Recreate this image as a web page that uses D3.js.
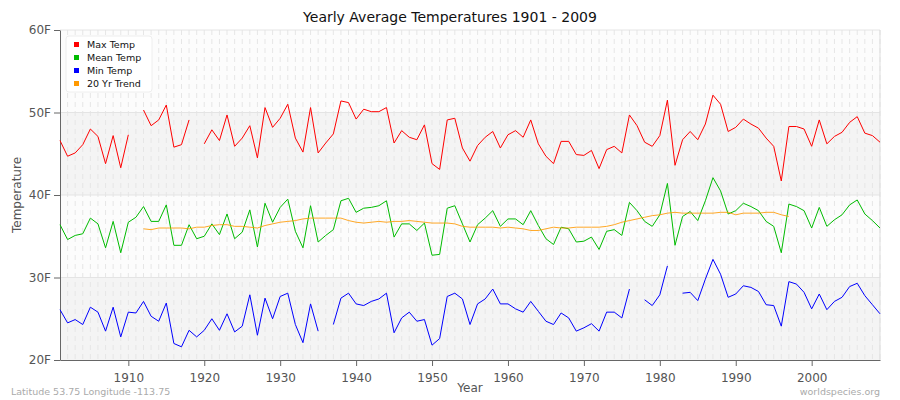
<!DOCTYPE html>
<html>
<head>
<meta charset="utf-8">
<script src="https://cdn.jsdelivr.net/npm/d3@7"></script>
<style>
  body { margin: 0; background: #fff; }
  text { font-family: "DejaVu Sans", Verdana, sans-serif; }
</style>
</head>
<body>
<div id="wrapper"></div>
<script>
// Data
const startYear = 1901;
const maxTemp = [46.6,44.7,45.1,46.1,48.0,47.1,43.8,47.2,43.3,47.3,null,50.3,48.4,49.1,50.9,45.8,46.1,49.1,null,
  46.2,47.9,46.6,49.7,45.9,46.9,48.4,44.5,50.6,48.2,49.3,51.0,46.9,45.2,50.6,45.1,46.3,47.4,51.4,51.2,
  49.2,50.4,50.1,50.1,50.6,46.3,47.8,47.0,46.7,48.5,43.8,43.1,49.1,49.3,45.7,44.1,46.0,47.0,47.7,45.7,
  47.3,47.8,47.0,49.1,46.2,44.7,43.8,46.5,46.5,44.9,44.8,45.4,43.2,45.5,45.9,45.1,49.7,48.4,46.4,45.9,
  47.2,51.5,43.6,46.7,47.7,46.7,48.6,52.1,51.0,47.7,48.2,49.2,48.6,48.1,46.9,45.9,41.7,48.3,48.3,48.0,
  45.9,49.1,46.2,47.1,47.6,48.8,49.5,47.5,47.2,46.4];
const meanTemp = [36.4,34.6,35.1,35.3,37.2,36.5,33.6,36.8,33.0,36.7,37.3,38.6,36.8,36.8,38.8,33.9,33.9,36.4,34.7,
  35.0,36.5,35.2,37.7,34.7,35.5,38.2,33.7,39.0,36.7,38.5,39.5,35.6,33.6,38.7,34.3,35.1,35.8,39.3,39.6,
  37.9,38.4,38.5,38.7,39.3,34.9,36.5,36.5,35.7,36.6,32.7,32.8,38.4,38.7,36.5,34.3,36.4,37.2,38.1,36.2,
  37.1,37.1,36.4,38.1,36.3,34.7,34.0,36.1,35.9,34.3,34.4,34.9,33.4,35.6,35.8,35.1,39.1,38.1,36.8,36.2,
  37.6,41.4,33.9,37.4,38.0,36.9,39.3,42.1,40.5,37.7,38.1,39.0,38.6,38.1,36.8,36.2,33.0,38.9,38.6,38.1,
  36.0,38.5,36.2,37.0,37.6,38.8,39.4,37.7,36.9,36.0];
const minTemp = [26.1,24.5,24.9,24.3,26.4,25.8,23.5,26.4,22.8,25.8,25.7,27.1,25.3,24.7,26.9,22.0,21.6,23.6,22.8,
  23.6,25.0,23.6,25.6,23.4,24.1,27.9,23.0,27.5,25.0,27.7,28.1,24.3,22.1,26.8,23.5,null,24.3,27.5,28.1,
  26.8,26.6,27.1,27.4,28.1,23.3,25.1,25.8,24.7,24.9,21.8,22.6,27.7,28.1,27.4,24.3,26.8,27.4,28.6,26.8,
  26.8,26.2,25.8,27.1,25.9,24.7,24.3,25.7,25.1,23.5,23.9,24.4,23.5,25.8,25.8,25.1,28.6,null,27.3,26.6,
  27.9,31.4,null,28.1,28.2,27.2,29.8,32.2,30.4,27.6,28.0,29.0,28.8,28.3,26.7,26.6,24.1,29.5,29.2,28.2,
  26.2,28.0,26.1,27.1,27.6,28.9,29.3,27.8,26.7,25.6];
// 20 year trend, 1912 - 1999
const trendStart = 1912;
const trendTemp = [35.9,35.8,36.0,36.0,36.0,36.0,35.9,36.1,36.1,36.3,36.4,36.4,36.2,36.2,36.1,36.0,36.3,
  36.5,36.7,36.8,36.9,37.1,37.2,37.2,37.2,37.2,37.2,36.9,36.7,36.6,36.7,36.8,36.7,36.8,36.8,36.9,36.8,
  36.7,36.6,36.6,36.6,36.5,36.2,36.1,36.1,36.1,36.1,36.0,36.1,36.0,35.9,35.7,35.7,35.9,36.1,36.0,36.0,
  36.1,36.1,36.1,36.1,36.2,36.4,36.7,36.9,37.1,37.3,37.5,37.6,37.8,37.9,37.8,37.8,37.8,37.8,37.8,37.9,
  37.9,37.6,37.8,37.8,37.8,37.9,37.9,37.6,37.4];
const yTicks = [20, 30, 40, 50, 60];
const xTicks = [1910, 1920, 1930, 1940, 1950, 1960, 1970, 1980, 1990, 2000];
const seriesNames = ["Max Temp", "Mean Temp", "Min Temp", "20 Yr Trend"];
const seriesColors = ["#ff0000", "#00bb00", "#0000ff", "#ff9900"];

const width = 900, height = 400;
const margin = { top: 30, right: 20, bottom: 40, left: 60 };

const svg = d3.select("#wrapper").append("svg")
  .attr("width", width).attr("height", height);

const x = d3.scaleLinear().domain([1901, 2009]).range([margin.left, width - margin.right]);
const y = d3.scaleLinear().domain([20, 60]).range([height - margin.bottom, margin.top]);

// bands
const bands = svg.append("g");
[[20, 30, "#f4f4f4"], [30, 40, "#fcfcfc"], [40, 50, "#f4f4f4"], [50, 60, "#fcfcfc"]].forEach(b => {
  bands.append("rect")
    .attr("x", x(1901)).attr("width", x(2009) - x(1901))
    .attr("y", y(b[1])).attr("height", y(b[0]) - y(b[1]))
    .attr("fill", b[2]);
});

// grid
const grid = svg.append("g").attr("stroke", "#e6e6e6").attr("stroke-dasharray", "5,4");
grid.selectAll("line.v").data(d3.range(1902, 2010)).join("line")
  .attr("x1", d => x(d)).attr("x2", d => x(d))
  .attr("y1", y(60)).attr("y2", y(20));
svg.append("g").attr("stroke", "#e4e4e4")
  .selectAll("line").data([30, 40, 50, 60]).join("line")
  .attr("x1", x(1901)).attr("x2", x(2009))
  .attr("y1", d => y(d)).attr("y2", d => y(d));

// axes
const xAxis = svg.append("g")
  .attr("transform", `translate(0,${y(20)})`)
  .call(d3.axisBottom(x).tickValues(xTicks).tickFormat(d3.format("d")).tickSize(6).tickSizeOuter(0));
const yAxis = svg.append("g")
  .attr("transform", `translate(${x(1901)},0)`)
  .call(d3.axisLeft(y).tickValues(yTicks).tickFormat(d => d + "F").tickSize(6).tickSizeOuter(0));
[xAxis, yAxis].forEach(a => {
  a.selectAll("path, line").attr("stroke", "#666");
  a.selectAll("text").attr("fill", "#555").style("font-size", "12px");
});
xAxis.selectAll("text").attr("dy", "1.1em");
svg.append("line").attr("x1", x(2009)).attr("x2", x(2009))
  .attr("y1", y(60)).attr("y2", y(20)).attr("stroke", "#ddd");

// lines
const yearOf = i => startYear + i;
const line = d3.line()
  .defined(d => d != null)
  .x((d, i) => x(yearOf(i)))
  .y(d => y(d));
[maxTemp, meanTemp, minTemp].forEach((s, k) => {
  svg.append("path").datum(s)
    .attr("fill", "none").attr("stroke", seriesColors[k]).attr("stroke-width", 1)
    .attr("d", line);
});
svg.append("path").datum(trendTemp)
  .attr("fill", "none").attr("stroke", seriesColors[3]).attr("stroke-width", 1).attr("opacity", 0.85)
  .attr("d", d3.line().x((d, i) => x(trendStart + i)).y(d => y(d)));

// legend
const legend = svg.append("g").attr("transform", "translate(66,36)");
legend.append("rect").attr("width", 86).attr("height", 56).attr("rx", 3)
  .attr("fill", "#fff").attr("stroke", "#eee");
seriesNames.forEach((n, i) => {
  legend.append("rect").attr("x", 8).attr("y", 6 + i * 13).attr("width", 5).attr("height", 5)
    .attr("fill", seriesColors[i]);
  legend.append("text").attr("x", 21).attr("y", 12 + i * 13)
    .style("font-size", "9.5px").attr("fill", "#111").text(n);
});

// texts
svg.append("text").attr("x", width / 2).attr("y", 22).attr("text-anchor", "middle")
  .style("font-size", "14px").attr("fill", "#111").text("Yearly Average Temperatures 1901 - 2009");
svg.append("text").attr("x", 470).attr("y", 392).attr("text-anchor", "middle")
  .style("font-size", "12px").attr("fill", "#555").text("Year");
svg.append("text").attr("transform", `translate(21,${(y(20) + y(60)) / 2}) rotate(-90)`)
  .attr("text-anchor", "middle").style("font-size", "12px").attr("fill", "#555").text("Temperature");
svg.append("text").attr("x", 11).attr("y", 395)
  .style("font-size", "9.5px").attr("fill", "#aaa").text("Latitude 53.75 Longitude -113.75");
svg.append("text").attr("x", 880).attr("y", 395).attr("text-anchor", "end")
  .style("font-size", "9.5px").attr("fill", "#aaa").text("worldspecies.org");
</script>
</body>
</html>
